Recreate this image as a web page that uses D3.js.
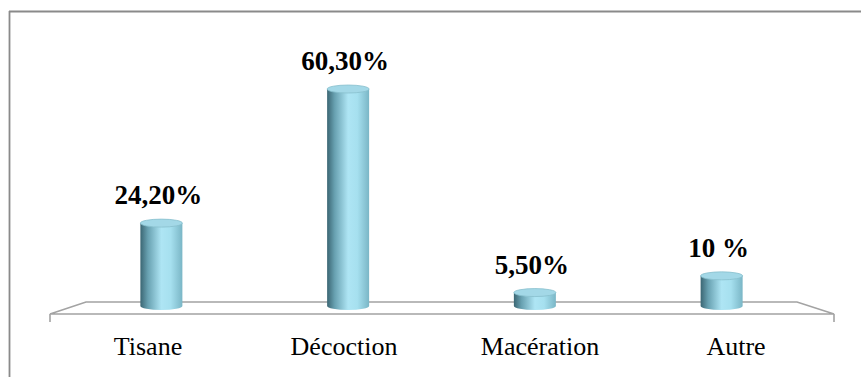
<!DOCTYPE html>
<html>
<head>
<meta charset="utf-8">
<script src="https://cdn.jsdelivr.net/npm/d3@7"></script>
<style>
  body { margin: 0; background: #fff; }
  svg { display: block; }
</style>
</head>
<body>
<div id="chart"></div>
<script>
    // donnees du graphique
    var categories = ["Tisane", "Décoction", "Macération", "Autre"];
    var valeurs = [24.2, 60.3, 5.5, 10];
    var etiquettes = ["24,20%", "60,30%", "5,50%", "10 %"];

    var W = 861, H = 377;
    var police = "'Liberation Serif', 'Times New Roman', serif";
    var svg = d3.select("#chart").append("svg")
        .attr("width", W)
        .attr("height", H);

    // degrade du cylindre
    var defs = svg.append("defs");
    var grad = defs.append("linearGradient")
        .attr("id", "corps")
        .attr("x1", "0%").attr("x2", "100%").attr("y1", "0%").attr("y2", "0%");
    [["0%", "#3b6673"], ["18%", "#68a1b1"], ["50%", "#aee5f4"], ["72%", "#a6e0ef"], ["100%", "#7ab6c6"]]
      .forEach(function(s) { grad.append("stop").attr("offset", s[0]).attr("stop-color", s[1]); });

    // cadre (haut et gauche)
    svg.append("line").attr("x1", 9).attr("x2", W).attr("y1", 11.5).attr("y2", 11.5)
        .attr("stroke", "#8a8a8a").attr("stroke-width", 1.8);
    svg.append("line").attr("x1", 9.5).attr("x2", 9.5).attr("y1", 11).attr("y2", H)
        .attr("stroke", "#8a8a8a").attr("stroke-width", 1.8);

    // echelles : x au milieu du plancher (cylindres), xFront sur le bord avant (libelles)
    var x = d3.scaleBand()
        .domain(categories)
        .range([68, 815]);
    var xFront = d3.scaleBand()
        .domain(categories)
        .range([50, 834]);
    var y = d3.scaleLinear()
        .domain([0, 70])
        .range([313, 53]);

    var baseY = 306, rx = 21, ry = 4;

    // plancher 3D
    var sol = svg.append("g").attr("fill", "none").attr("stroke", "#a3a3a3").attr("stroke-width", 1.6);
    sol.append("path").attr("d", "M50,314 L86,302 L797,302 L834,314 Z");
    sol.append("line").attr("x1", 50).attr("x2", 50).attr("y1", 314).attr("y2", 322);
    sol.append("line").attr("x1", 834).attr("x2", 834).attr("y1", 314).attr("y2", 322);

    var data = categories.map(function(c, i) { return {cat: c, val: valeurs[i], lab: etiquettes[i]}; });

    // cylindres
    var cyl = svg.selectAll(".cyl")
      .data(data)
      .enter()
      .append("g");

    cyl.append("path")
        .attr("d", function(d) {
          var cx = x(d.cat) + x.bandwidth() / 2, t = y(d.val);
          return "M" + (cx - rx) + "," + t + " L" + (cx - rx) + "," + baseY +
                 " A" + rx + "," + ry + " 0 0 0 " + (cx + rx) + "," + baseY +
                 " L" + (cx + rx) + "," + t + " Z";
        })
        .attr("fill", "url(#corps)");

    cyl.append("ellipse")
        .attr("cx", function(d) { return x(d.cat) + x.bandwidth() / 2; })
        .attr("cy", function(d) { return y(d.val); })
        .attr("rx", rx)
        .attr("ry", ry)
        .attr("fill", "#a3d8e7")
        .attr("stroke", "#88bfcd")
        .attr("stroke-width", 0.8);

    // valeurs
    svg.selectAll(".val")
      .data(data)
      .enter()
      .append("text")
        .attr("x", function(d) { return x(d.cat) + x.bandwidth() / 2 - 3; })
        .attr("y", function(d) { return y(d.val) - 19; })
        .attr("text-anchor", "middle")
        .style("font-family", police)
        .style("font-weight", "bold")
        .style("font-size", "27px")
        .text(function(d) { return d.lab; });

    // categories
    svg.selectAll(".cat")
      .data(categories)
      .enter()
      .append("text")
        .attr("x", function(d) { return xFront(d) + xFront.bandwidth() / 2; })
        .attr("y", 355)
        .attr("text-anchor", "middle")
        .style("font-family", police)
        .style("font-size", "26px")
        .text(function(d) { return d; });
</script>
</body>
</html>
